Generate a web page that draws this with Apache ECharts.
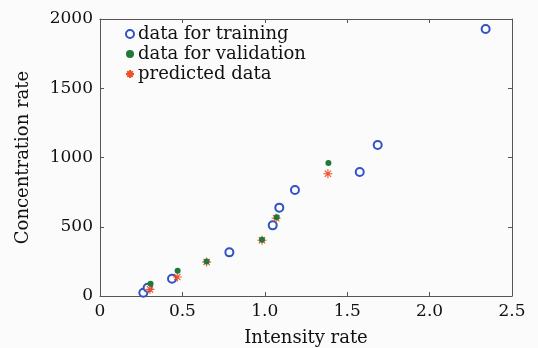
<!DOCTYPE html>
<html>
<head>
<meta charset="utf-8">
<script src="https://cdn.jsdelivr.net/npm/echarts@6/dist/echarts.min.js"></script>
<style>
  html, body { margin: 0; padding: 0; background: #fbfbfb; }
  #main { width: 538px; height: 348px; }
</style>
</head>
<body>
<div id="main"></div>
<script>
var dom = document.getElementById("main");
var myChart = echarts.init(dom, null, { renderer: "canvas" });

// [intensity rate, concentration rate]
var trainingData = [
  [0.263, 24], [0.289, 60], [0.437, 125], [0.785, 315],
  [1.048, 510], [1.088, 638], [1.183, 765], [1.576, 895],
  [1.685, 1090], [2.34, 1928]
];
var validationData = [
  [0.307, 89], [0.471, 183], [0.647, 250], [0.983, 407],
  [1.072, 568], [1.386, 960]
];
var predictedData = [
  [0.303, 48], [0.469, 137], [0.647, 245], [0.983, 402],
  [1.069, 561], [1.383, 883]
];
var legendNames = ["data for training", "data for validation", "predicted data"];

var FONT = "DejaVu Serif";
// asterisk marker: vertical, horizontal and two diagonal strokes
var asterisk = "path://M5,0L5,10M0,5L10,5M1.5,1.5L8.5,8.5M1.5,8.5L8.5,1.5";

var lineStyle = { color: "#555", width: 1 };
var line = { show: true, onZero: false, lineStyle: lineStyle };
var tick = { show: true, inside: true, length: 4, lineStyle: lineStyle };

option = {
  backgroundColor: "#fbfbfb",
  animation: false,
  grid: { left: 100, right: 26, top: 19, bottom: 52, outerBoundsMode: "none" },
  legend: {
    orient: "vertical",
    left: 120,
    top: 20,
    itemGap: 2,
    itemWidth: 8,
    itemHeight: 8,
    textStyle: { fontFamily: FONT, fontSize: 18, color: "#111", padding: [0, 0, 0, -1] },
    data: legendNames
  },
  xAxis: [
    {
      type: "value",
      min: 0, max: 2.5, interval: 0.5,
      name: "Intensity rate",
      nameLocation: "middle",
      nameGap: 33,
      nameTextStyle: { fontFamily: FONT, fontSize: 18, color: "#111" },
      axisLine: line,
      axisTick: tick,
      axisLabel: {
        fontFamily: FONT, fontSize: 17, color: "#111", margin: 7,
        formatter: function (v) { return v === 0 ? "0" : v.toFixed(1); }
      },
      splitLine: { show: false }
    },
    {
      type: "value", position: "top",
      min: 0, max: 2.5, interval: 0.5,
      axisLine: line,
      axisTick: tick,
      axisLabel: { show: false },
      splitLine: { show: false }
    }
  ],
  yAxis: [
    {
      type: "value",
      min: 0, max: 2000, interval: 500,
      name: "Concentration rate",
      nameLocation: "middle",
      nameGap: 68,
      nameTextStyle: { fontFamily: FONT, fontSize: 18, color: "#111" },
      axisLine: line,
      axisTick: tick,
      axisLabel: {
        fontFamily: FONT, fontSize: 17, color: "#111", margin: 7,
        formatter: function (v) { return String(v); }
      },
      splitLine: { show: false }
    },
    {
      type: "value", position: "right",
      min: 0, max: 2000, interval: 500,
      axisLine: line,
      axisTick: tick,
      axisLabel: { show: false },
      splitLine: { show: false }
    }
  ],
  series: [
    {
      name: legendNames[0],
      type: "scatter",
      symbol: "emptyCircle",
      symbolSize: 8,
      itemStyle: { color: "#2f52c4", borderColor: "#2f52c4", borderWidth: 1.3, opacity: 1 },
      data: trainingData
    },
    {
      name: legendNames[2],
      type: "scatter",
      symbol: asterisk,
      symbolSize: 9,
      itemStyle: { color: "transparent", borderColor: "#f0502a", borderWidth: 1.1, opacity: 1 },
      data: predictedData,
      z: 3
    },
    {
      name: legendNames[1],
      type: "scatter",
      symbol: "circle",
      symbolSize: 6,
      itemStyle: { color: "#1f7a35", opacity: 1 },
      data: validationData,
      z: 4
    }
  ]
};

myChart.setOption(option);
</script>
</body>
</html>
